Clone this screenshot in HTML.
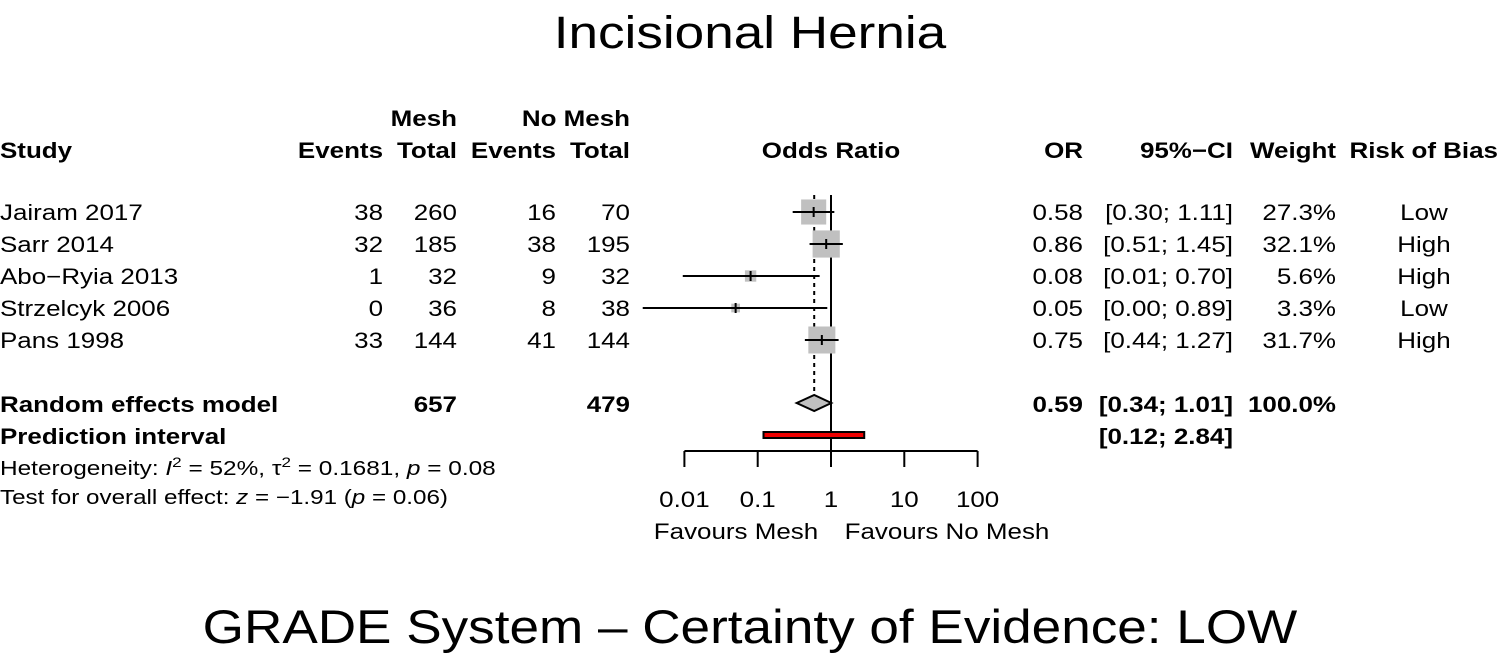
<!DOCTYPE html>
<html><head><meta charset="utf-8"><style>
body{margin:0;background:#fff}
svg text{font-family:"Liberation Sans",Arial,sans-serif;font-size:22px;fill:#000;transform-box:fill-box}
.b{font-weight:bold}
</style></head><body>
<svg id="c" width="1498" height="657" xmlns="http://www.w3.org/2000/svg">
<text x="750" y="48" text-anchor="middle" style="font-size:45px" data-sx="1.18">Incisional Hernia</text>
<text x="750" y="643" text-anchor="middle" style="font-size:47px" data-sx="1.13">GRADE System – Certainty of Evidence: LOW</text>
<g class="b">
<text x="457" y="126" text-anchor="end" class="b">Mesh</text>
<text x="630" y="126" text-anchor="end" class="b">No Mesh</text>
<text x="0" y="158" class="b">Study</text>
<text x="383" y="158" text-anchor="end" class="b">Events</text>
<text x="457" y="158" text-anchor="end" class="b">Total</text>
<text x="556" y="158" text-anchor="end" class="b">Events</text>
<text x="630" y="158" text-anchor="end" class="b">Total</text>
<text x="831" y="158" text-anchor="middle" class="b">Odds Ratio</text>
<text x="1083" y="158" text-anchor="end" class="b">OR</text>
<text x="1233" y="158" text-anchor="end" class="b">95%−CI</text>
<text x="1336" y="158" text-anchor="end" class="b">Weight</text>
<text x="1498" y="158" text-anchor="end" class="b">Risk of Bias</text>
</g>
<g id="rows"></g>
<text x="0" y="412" class="b">Random effects model</text>
<text x="457" y="412" text-anchor="end" class="b">657</text>
<text x="630" y="412" text-anchor="end" class="b">479</text>
<text x="1083" y="412" text-anchor="end" class="b">0.59</text>
<text x="1233" y="412" text-anchor="end" class="b">[0.34; 1.01]</text>
<text x="1336" y="412" text-anchor="end" class="b">100.0%</text>
<text x="0" y="444" class="b">Prediction interval</text>
<text x="1233" y="444" text-anchor="end" class="b">[0.12; 2.84]</text>
<text x="0" y="475" style="font-size:20px" data-sx="1.22">Heterogeneity: <tspan font-style="italic">I</tspan><tspan dy="-8" style="font-size:14px">2</tspan><tspan dy="8"> = 52%, τ</tspan><tspan dy="-8" style="font-size:14px">2</tspan><tspan dy="8"> = 0.1681, </tspan><tspan font-style="italic">p</tspan> = 0.08</text>
<text x="0" y="504" style="font-size:20px" data-sx="1.21">Test for overall effect: <tspan font-style="italic">z</tspan> = −1.91 (<tspan font-style="italic">p</tspan> = 0.06)</text>
<text x="736" y="539" text-anchor="middle">Favours Mesh</text>
<text x="947" y="539" text-anchor="middle">Favours No Mesh</text>
<g id="plot"></g>
</svg>
<script>
const studies=["Jairam 2017","Sarr 2014","Abo−Ryia 2013","Strzelcyk 2006","Pans 1998"];
const meshEvents=[38,32,1,0,33];
const meshTotal=[260,185,32,36,144];
const noEvents=[16,38,9,8,41];
const noTotal=[70,195,32,38,144];
const orVals=[0.58,0.86,0.08,0.05,0.75];
const ciLow=[0.30,0.51,0.01,0.00,0.44];
const ciHigh=[1.11,1.45,0.70,0.89,1.27];
const ciLowDraw=[0.30,0.51,0.0095,0.0027,0.44];
const weights=[27.3,32.1,5.6,3.3,31.7];
const bias=["Low","High","High","Low","High"];
const pooled=[0.59,0.34,1.01];
const predInt=[0.12,2.84];
const ticks=[0.01,0.1,1,10,100];
const tickLabels=["0.01","0.1","1","10","100"];
const NS="http://www.w3.org/2000/svg";
const x=v=>831+73.3*Math.log10(v);
const rowY=i=>212+32*i;
function mk(t,a,p){const e=document.createElementNS(NS,t);for(const k in a)e.setAttribute(k,a[k]);p.appendChild(e);return e;}
const rows=document.getElementById('rows'),plot=document.getElementById('plot');
function txt(p,s,xx,y,anc){const t=mk('text',{x:xx,y:y,'text-anchor':anc},p);t.textContent=s;return t;}
const f2=v=>v.toFixed(2);
studies.forEach((s,i)=>{
 const g=mk('g',{},rows);
 
 
 const y=rowY(i)+8;
 txt(g,s,0,y,'start');
 txt(g,meshEvents[i],383,y,'end');txt(g,meshTotal[i],457,y,'end');
 txt(g,noEvents[i],556,y,'end');txt(g,noTotal[i],630,y,'end');
 txt(g,f2(orVals[i]),1083,y,'end');
 txt(g,'['+f2(ciLow[i])+'; '+f2(ciHigh[i])+']',1233,y,'end');
 txt(g,weights[i].toFixed(1)+'%',1336,y,'end');
 txt(g,bias[i],1424,y,'middle');
});
mk('line',{x1:x(ticks[0]),x2:x(ticks[ticks.length-1]),y1:451,y2:451,stroke:'#000','stroke-width':2},plot);
ticks.forEach((t,i)=>{
 const l=mk('line',{x1:x(t),x2:x(t),y1:451,y2:467,stroke:'#000','stroke-width':2},plot);
 
 const tx=txt(plot,tickLabels[i],x(t),507,'middle');
 
});
mk('line',{x1:x(1),x2:x(1),y1:195,y2:451,stroke:'#000','stroke-width':2},plot);
mk('line',{x1:x(pooled[0]),x2:x(pooled[0]),y1:195,y2:396,stroke:'#000','stroke-width':2,'stroke-dasharray':'4,4'},plot);
studies.forEach((s,i)=>{
 const y=rowY(i),sz=4.8*Math.sqrt(weights[i]);
 const r=mk('rect',{x:x(orVals[i])-sz/2,y:y-sz/2,width:sz,height:sz,fill:'#c0c0c0'},plot);
 
 const l=mk('line',{x1:x(ciLowDraw[i]),x2:x(ciHigh[i]),y1:y,y2:y,stroke:'#000','stroke-width':2},plot);
 
 mk('line',{x1:x(orVals[i]),x2:x(orVals[i]),y1:y-5,y2:y+5,stroke:'#000','stroke-width':2},plot);
});
const dy=403;
const d=mk('polygon',{points:`${x(pooled[1])},${dy} ${x(pooled[0])},${dy-8} ${x(pooled[2])},${dy} ${x(pooled[0])},${dy+8}`,fill:'#c0c0c0',stroke:'#000','stroke-width':2},plot);

const p=mk('rect',{x:x(predInt[0]),y:432,width:x(predInt[1])-x(predInt[0]),height:6,fill:'#e00',stroke:'#000','stroke-width':2},plot);

document.querySelectorAll('svg > text, svg g text').forEach(t=>{
 const a=t.getAttribute('text-anchor')||'start';
 const s=t.getAttribute('data-sx')||'1.18';
 t.style.transformOrigin=a==='end'?'right':a==='middle'?'center':'left';
 t.style.transform='scaleX('+s+')';
});
</script>
</body></html>
